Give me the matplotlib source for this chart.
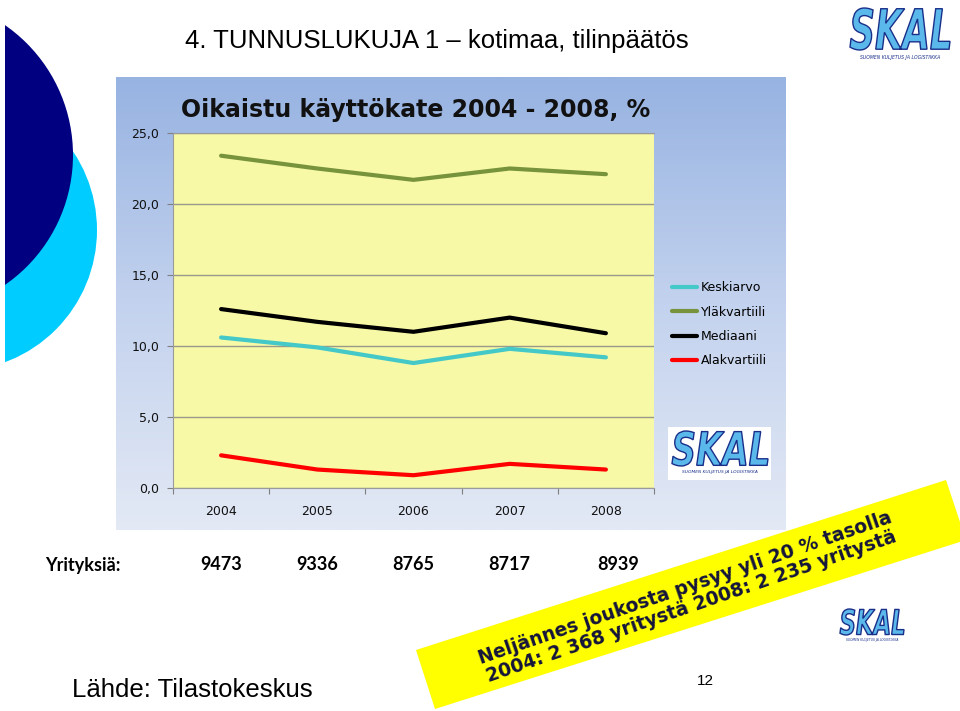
import numpy as np
import matplotlib
matplotlib.use("Agg")
import matplotlib.pyplot as plt
from matplotlib.patches import Circle, Rectangle, Polygon, PathPatch
from matplotlib.colors import LinearSegmentedColormap
from matplotlib.textpath import TextPath
from matplotlib.font_manager import FontProperties
from matplotlib.transforms import Affine2D, blended_transform_factory

plt.rcParams["font.family"] = ["DejaVu Sans"]

# Data
years = ["2004", "2005", "2006", "2007", "2008"]
keskiarvo = [10.6, 9.9, 8.8, 9.8, 9.2]
ylakvartiili = [23.4, 22.5, 21.7, 22.5, 22.1]
mediaani = [12.6, 11.7, 11.0, 12.0, 10.9]
alakvartiili = [2.3, 1.3, 0.9, 1.7, 1.3]
yrityksia = [9473, 9336, 8765, 8717, 8939]
count_dx = [0, 0, 0, 0, 12]  # pixel nudges for the company counts row

W, H = 960, 711
fig = plt.figure(figsize=(9.6, 7.11), dpi=100)

# background layer in pixel coordinates
bg = fig.add_axes([0, 0, 1, 1], zorder=0)
bg.axis("off")

# decorative circles on the left
bg.add_patch(Circle((-44, 230), 141, color="#00ccff", lw=0))
bg.add_patch(Circle((-85, 155), 158, color="#000080", lw=0))
bg.add_patch(Rectangle((0, 0), 5, H, color="white", lw=0))

# chart area gradient
grad = np.linspace(0, 1, 256).reshape(-1, 1)
cmap = LinearSegmentedColormap.from_list("bg", ["#97b3e2", "#c3d2ee", "#e3e9f5"])
bg.imshow(grad, cmap=cmap, extent=[116, 786, 530, 77], aspect="auto")
bg.set_xlim(0, W)
bg.set_ylim(H, 0)


def logo(axis, x, y, w, h, sub_size):
    # SKAL logo drawn as stretched text
    tp = TextPath((0, 0), "SKAL", size=1,
                  prop=FontProperties(family="DejaVu Sans", weight="bold", style="italic"))
    ext = tp.get_extents()
    tr = Affine2D().translate(-ext.x0, -ext.y0).scale(w / ext.width, -h / ext.height).translate(x, y + h)
    axis.add_patch(PathPatch(tr.transform_path(tp), facecolor="#5ab8ea", edgecolor="#1a2f8a", lw=1.0))
    axis.text(x + w / 2, y + h + 0.18 * h, "SUOMEN KULJETUS JA LOGISTIIKKA", fontsize=sub_size,
              color="#1a2f8a", ha="center", va="center", style="italic")


bg.add_patch(Rectangle((668, 427), 103, 53, color="white", lw=0))
logo(bg, 672, 431, 96, 35, 3.2)

# main chart
ax = fig.add_axes([173 / W, 1 - 488 / H, 481 / W, 355 / H], zorder=1)
ax.set_facecolor("#f7f9a6")
x = np.arange(len(years))
ax.plot(x, keskiarvo, color="#45c8c8", lw=3, label="Keskiarvo", solid_capstyle="round")
ax.plot(x, ylakvartiili, color="#77933c", lw=3, label="Yläkvartiili", solid_capstyle="round")
ax.plot(x, mediaani, color="black", lw=3, label="Mediaani", solid_capstyle="round")
ax.plot(x, alakvartiili, color="#ff0000", lw=3, label="Alakvartiili", solid_capstyle="round")

ax.set_ylim(0, 25)
ax.set_xlim(-0.5, len(years) - 0.5)
ax.set_yticks(np.arange(0, 26, 5))
ax.set_yticklabels([f"{v:.1f}".replace(".", ",") for v in np.arange(0, 26, 5)])
ax.set_xticks(np.arange(-0.5, len(years), 1))
ax.set_xticklabels([])
ax.set_xticks(x, minor=True)
ax.set_xticklabels(years, minor=True)
ax.tick_params(axis="x", which="minor", length=0, pad=12, labelsize=9, labelcolor="#111111")
ax.tick_params(axis="x", which="major", length=4, color="#808080", direction="out")
ax.tick_params(axis="y", length=4, color="#808080", pad=6, labelsize=9, labelcolor="#111111")
ax.grid(axis="y", color="#9a9a8a", lw=1)
ax.set_axisbelow(True)
for side in ["left", "bottom", "top"]:
    ax.spines[side].set_color("#9a9a9a")
ax.spines["right"].set_visible(False)

ax.legend(loc="upper left", bbox_to_anchor=(672 / W, 1 - 281 / H), bbox_transform=fig.transFigure,
          frameon=False, fontsize=9, handlelength=2.0, handletextpad=0.3, labelspacing=0.92,
          borderaxespad=0, borderpad=0)

# texts
fig.text(416 / W, 1 - 110 / H, "Oikaistu käyttökate 2004 - 2008, %", fontsize=17,
         fontweight="bold", ha="center", va="center", color="#111111")
fig.text(185 / W, 1 - 41 / H, "4. TUNNUSLUKUJA 1 – kotimaa, tilinpäätös",
         family="Liberation Sans", fontsize=18.5, ha="left", va="center")
fig.text(72 / W, 1 - 690 / H, "Lähde: Tilastokeskus", family="Liberation Sans",
         fontsize=18.5, ha="left", va="center")
fig.text(705 / W, 1 - 681 / H, "12", family="Liberation Sans", fontsize=11,
         ha="center", va="center")

row = blended_transform_factory(ax.transData, fig.transFigure)
fig.text(45 / W, 1 - 565 / H, "Yrityksiä:", family="Lato", fontweight="bold",
         fontsize=13, ha="left", va="center")
for i, n in enumerate(yrityksia):
    ax.text(x[i] + count_dx[i] / 96, 1 - 565 / H, str(n), transform=row, family="Lato",
            fontweight="bold", fontsize=13, ha="center", va="center", clip_on=False)

# top layer: banner and logos
top = fig.add_axes([0, 0, 1, 1], zorder=3)
top.set_xlim(0, W)
top.set_ylim(H, 0)
top.axis("off")
top.patch.set_alpha(0)

top.add_patch(Polygon([(416, 650), (946, 480), (966, 540), (435, 709)], closed=True,
                      color="#ffff00", lw=0))
top.text(688, 597, "Neljännes joukosta pysyy yli 20 % tasolla\n2004: 2 368 yritystä 2008: 2 235 yritystä",
         rotation=19, rotation_mode="anchor", ha="center", va="center", fontsize=13.5,
         fontweight="bold", color="#14143c", linespacing=1.05)

logo(top, 850, 8, 100, 42, 3.3)
logo(top, 840, 609, 64, 26, 2.2)

fig.savefig("out.png", dpi=100)
